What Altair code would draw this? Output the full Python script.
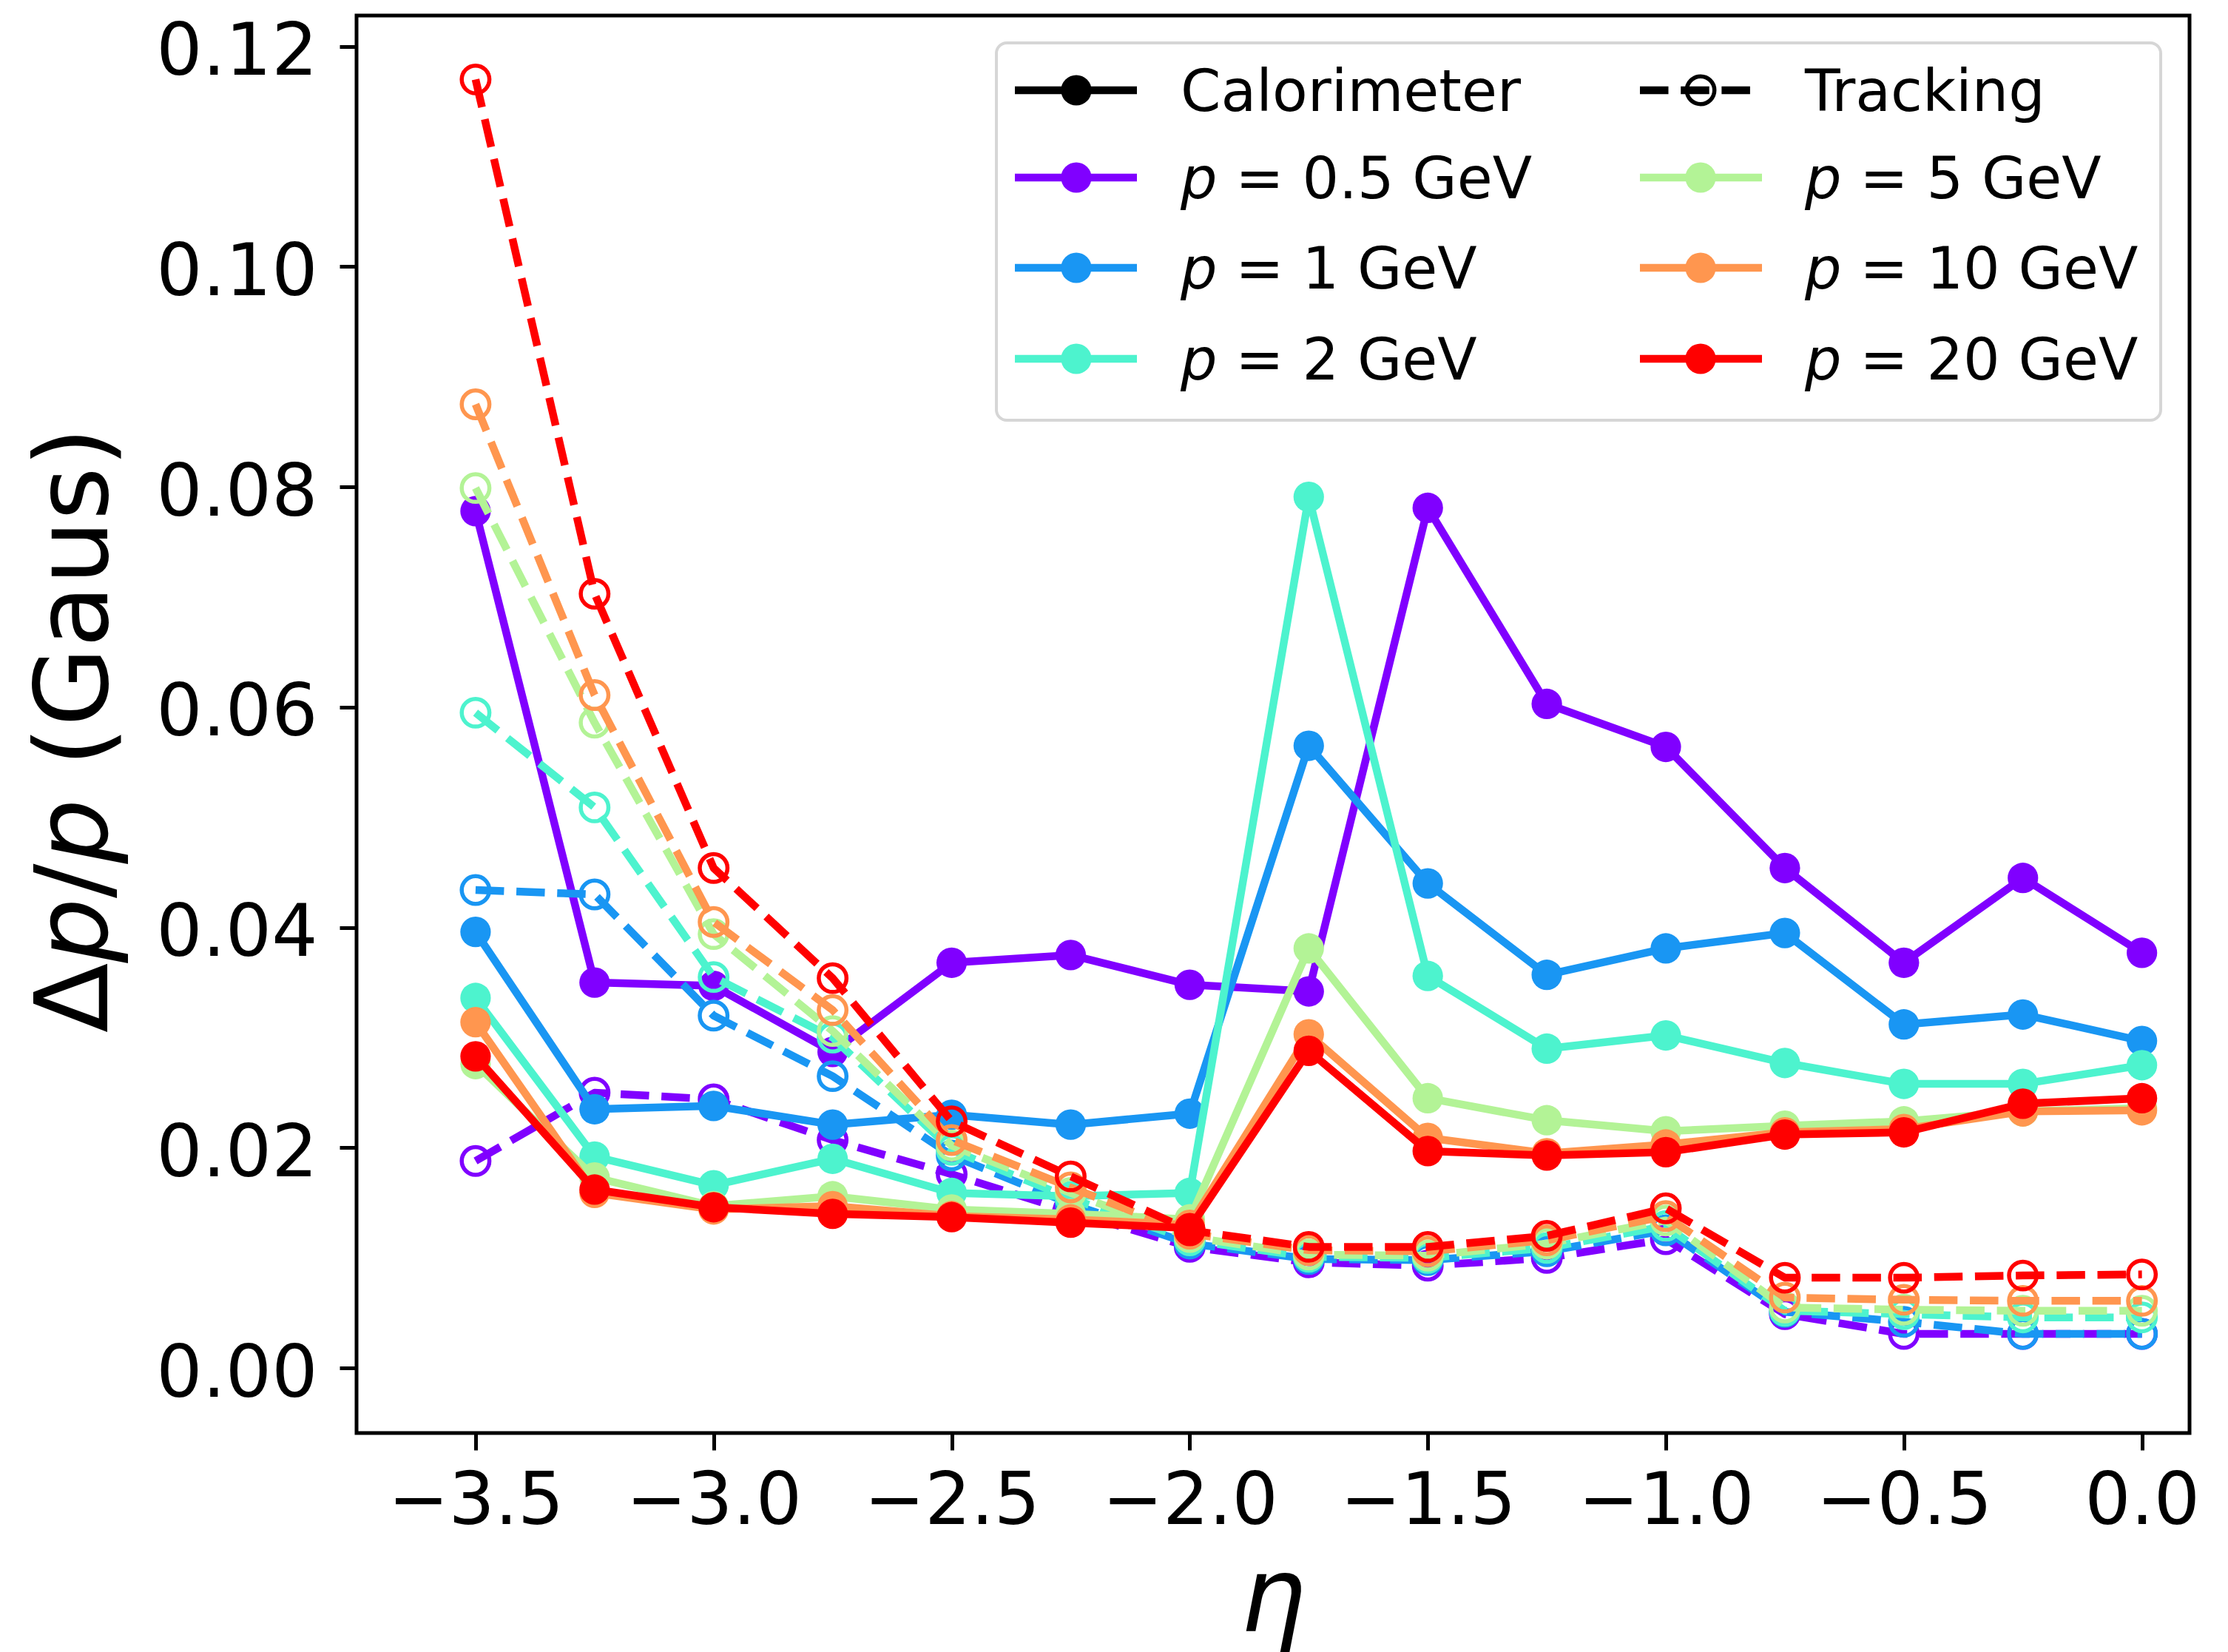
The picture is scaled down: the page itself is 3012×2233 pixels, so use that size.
import altair as alt
import pandas as pd

# ---- data -----------------------------------------------------------------
eta = [-3.5, -3.25, -3.0, -2.75, -2.5, -2.25, -2.0, -1.75,
       -1.5, -1.25, -1.0, -0.75, -0.5, -0.25, 0.0]

momenta = ["0.5", "1", "2", "5", "10", "20"]

# Calorimeter resolution (solid, filled markers)
calo_p05 = [0.0778, 0.0350, 0.0347, 0.0287, 0.0368, 0.0375, 0.0348, 0.0342,
            0.0781, 0.0603, 0.0564, 0.0454, 0.0368, 0.0445, 0.0377]
calo_p1 = [0.0396, 0.0235, 0.0238, 0.0221, 0.0230, 0.0221, 0.0231, 0.0565,
           0.0440, 0.0357, 0.0381, 0.0395, 0.0312, 0.0321, 0.0297]
calo_p2 = [0.0336, 0.0192, 0.0166, 0.0190, 0.0159, 0.0156, 0.0159, 0.0791,
           0.0356, 0.0290, 0.0302, 0.0277, 0.0258, 0.0258, 0.0275]
calo_p5 = [0.0276, 0.0173, 0.0147, 0.0156, 0.0144, 0.0140, 0.0135, 0.0381,
           0.0245, 0.0225, 0.0215, 0.0220, 0.0224, 0.0233, 0.0236]
calo_p10 = [0.0314, 0.0159, 0.0144, 0.0147, 0.0138, 0.0135, 0.0130, 0.0303,
            0.0209, 0.0195, 0.0203, 0.0214, 0.0217, 0.0233, 0.0234]
calo_p20 = [0.0283, 0.0162, 0.0146, 0.0140, 0.0137, 0.0132, 0.0127, 0.0288,
            0.0197, 0.0193, 0.0196, 0.0212, 0.0214, 0.0240, 0.0245]

# Tracking resolution (dashed, open markers)
trk_p05 = [0.0188, 0.0250, 0.0244, 0.0207, 0.0176, 0.0142, 0.0110, 0.0096,
           0.0093, 0.0100, 0.0117, 0.0049, 0.0031, 0.0031, 0.0031]
trk_p1 = [0.0434, 0.0430, 0.0320, 0.0265, 0.0193, 0.0149, 0.0113, 0.0099,
          0.0098, 0.0106, 0.0125, 0.0051, 0.0042, 0.0031, 0.0031]
trk_p2 = [0.0595, 0.0509, 0.0355, 0.0300, 0.0198, 0.0154, 0.0116, 0.0101,
          0.0100, 0.0109, 0.0129, 0.0052, 0.0049, 0.0046, 0.0046]
trk_p5 = [0.0799, 0.0586, 0.0394, 0.0306, 0.0202, 0.0159, 0.0119, 0.0103,
          0.0102, 0.0113, 0.0134, 0.0055, 0.0053, 0.0052, 0.0052]
trk_p10 = [0.0875, 0.0611, 0.0405, 0.0325, 0.0207, 0.0164, 0.0122, 0.0107,
           0.0106, 0.0116, 0.0138, 0.0064, 0.0062, 0.0061, 0.0061]
trk_p20 = [0.1170, 0.0703, 0.0454, 0.0354, 0.0224, 0.0174, 0.0125, 0.0110,
           0.0110, 0.0120, 0.0145, 0.0082, 0.0082, 0.0084, 0.0085]

calo_series = [calo_p05, calo_p1, calo_p2, calo_p5, calo_p10, calo_p20]
trk_series = [trk_p05, trk_p1, trk_p2, trk_p5, trk_p10, trk_p20]

x_ticks = [-3.5, -3.0, -2.5, -2.0, -1.5, -1.0, -0.5, 0.0]
y_ticks = [0.0, 0.02, 0.04, 0.06, 0.08, 0.10, 0.12]

# ---- style ----------------------------------------------------------------
COLORS = ["#8000ff", "#1996f3", "#4df3ce", "#b3f396", "#ff964f", "#ff0000"]
FONT = "DejaVu Sans"
W, H = 2478, 1916
LW = 10.5
DASH = [38.5, 16.7]
FILLED_SIZE = 1700   # Vega symbol size = diameter squared
OPEN_SIZE = 1400
OPEN_EDGE = 5.5

x_enc = alt.X(
    "eta:Q",
    scale=alt.Scale(domain=[-3.75, 0.1], nice=False, zero=False),
    axis=alt.Axis(values=x_ticks, format=".1f", title=None, grid=False,
                  domain=False, labelFontSize=98, labelFont=FONT,
                  labelColor="black", tickColor="black", tickWidth=5,
                  tickSize=23, labelPadding=22, labelFlush=False,
                  labelLimit=0, labelOverlap=False),
)
y_enc = alt.Y(
    "res:Q",
    scale=alt.Scale(domain=[-0.0059, 0.1228], nice=False, zero=False),
    axis=alt.Axis(values=y_ticks, format=".2f", title=None, grid=False,
                  domain=False, labelFontSize=98, labelFont=FONT,
                  labelColor="black", tickColor="black", tickWidth=5,
                  tickSize=23, labelPadding=30, labelOffset=9,
                  labelFlush=False, labelLimit=0, labelOverlap=False),
)

layers = []
for color, cvals, tvals in zip(COLORS, calo_series, trk_series):
    cdf = pd.DataFrame({"eta": eta, "res": cvals})
    tdf = pd.DataFrame({"eta": eta, "res": tvals})
    cbase = alt.Chart(cdf).encode(x=x_enc, y=y_enc)
    tbase = alt.Chart(tdf).encode(x=x_enc, y=y_enc)
    layers.append(cbase.mark_line(color=color, strokeWidth=LW, strokeJoin="round"))
    layers.append(cbase.mark_point(shape="circle", filled=True, color=color,
                                   size=FILLED_SIZE, opacity=1))
    layers.append(tbase.mark_line(color=color, strokeWidth=LW, strokeDash=DASH,
                                  strokeJoin="round"))
    layers.append(tbase.mark_point(shape="circle", filled=False, color=color,
                                   size=OPEN_SIZE, strokeWidth=OPEN_EDGE,
                                   opacity=1))

one = pd.DataFrame({"k": [0]})


def text_layer(txt, x, y, size, italic=False, angle=0, align="left",
               baseline="alphabetic"):
    kw = dict(text=txt, font=FONT, fontSize=size, color="black", align=align,
              baseline=baseline, angle=angle)
    if italic:
        kw["fontStyle"] = "italic"
    return alt.Chart(one).mark_text(**kw).encode(x=alt.value(x), y=alt.value(y))


# ---- legend ---------------------------------------------------------------
layers.append(
    alt.Chart(one).mark_rect(fill="white", fillOpacity=0.8, stroke="#d6d6d6",
                             strokeWidth=4, cornerRadius=14)
    .encode(x=alt.value(865), x2=alt.value(2439), y=alt.value(37), y2=alt.value(547))
)

LEG_FS = 78
rows = [101, 219, 341, 464]
col_line = [(890, 1055), (1735, 1900)]
col_marker = [973, 1817]
col_text = [1114, 1958]
entries = [
    [("Calorimeter", "black", "header_solid"), ("0.5", COLORS[0], None),
     ("1", COLORS[1], None), ("2", COLORS[2], None)],
    [("Tracking", "black", "header_dash"), ("5", COLORS[3], None),
     ("10", COLORS[4], None), ("20", COLORS[5], None)],
]
for c, col in enumerate(entries):
    for r, (lab, color, kind) in enumerate(col):
        yy = rows[r]
        x1, x2 = col_line[c]
        rule_kw = dict(color=color, strokeWidth=LW)
        if kind == "header_dash":
            rule_kw["strokeDash"] = DASH
        layers.append(alt.Chart(one).mark_rule(**rule_kw).encode(
            x=alt.value(x1), x2=alt.value(x2), y=alt.value(yy)))
        if kind == "header_dash":
            layers.append(alt.Chart(one).mark_point(
                shape="circle", filled=False, color=color, size=OPEN_SIZE,
                strokeWidth=OPEN_EDGE, opacity=1).encode(
                x=alt.value(col_marker[c]), y=alt.value(yy)))
        else:
            layers.append(alt.Chart(one).mark_point(
                shape="circle", filled=True, color=color, size=FILLED_SIZE,
                opacity=1).encode(x=alt.value(col_marker[c]), y=alt.value(yy)))
        tx, ty = col_text[c], yy + 28
        if kind is None:
            layers.append(text_layer("p", tx, ty, LEG_FS, italic=True))
            layers.append(text_layer(f"= {lab} GeV", tx + (0.635 + 0.318) * LEG_FS,
                                     ty, LEG_FS))
        else:
            layers.append(text_layer(lab, tx, ty, LEG_FS))

# ---- axis titles ----------------------------------------------------------
TS = 138
ty0 = 1375
title_x = -337
pieces = [("Δ", False, 0.0), ("p", True, 0.684), ("/", False, 1.319),
          ("p", True, 1.656), ("(Gaus)", False, 2.609)]
for txt, it, off in pieces:
    layers.append(text_layer(txt, title_x, ty0 - off * TS, TS, italic=it, angle=270))

layers.append(text_layer("η", W / 2, 2184, 140, italic=True, align="center"))

chart = (
    alt.layer(*layers)
    .properties(width=W, height=H, autosize="none",
                padding={"left": 482, "top": 21, "right": 52, "bottom": 296},
                background="white")
    .configure_view(stroke="black", strokeWidth=5)
)

chart.save("out.html", embed_options={"renderer": "svg", "actions": False})
